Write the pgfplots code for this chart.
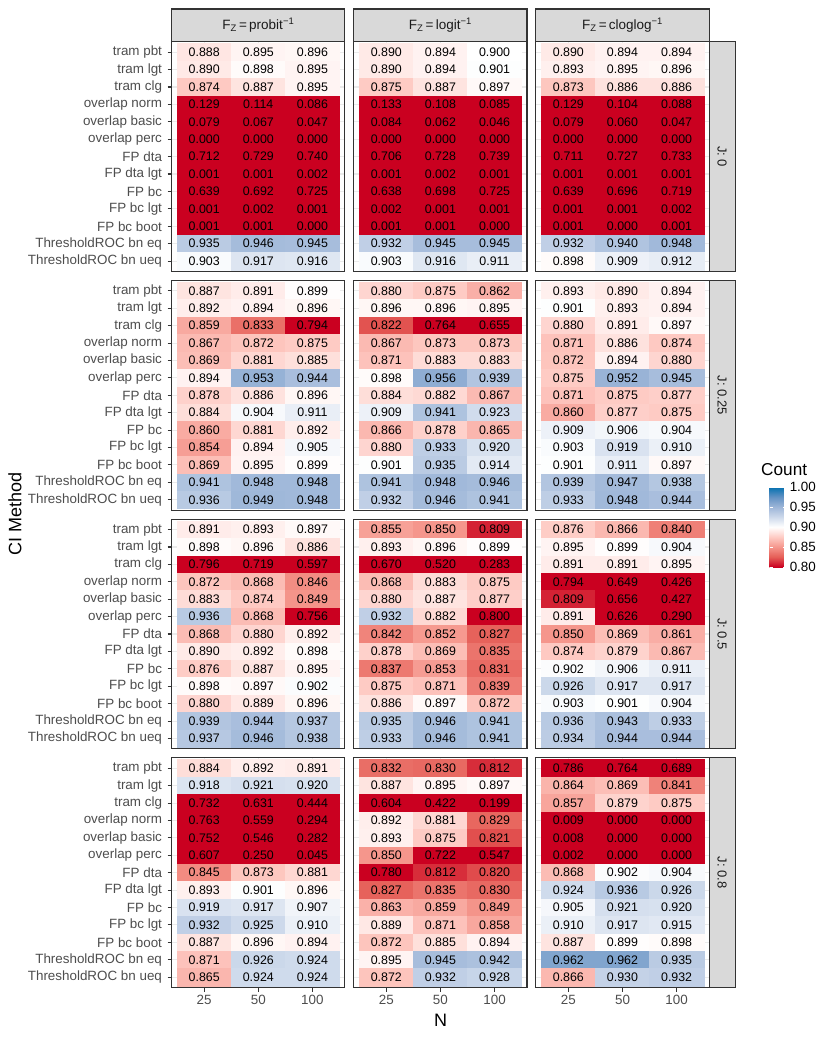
\documentclass[border=0pt]{standalone}
\usepackage{fontspec}
\setmainfont{Liberation Sans}
\usepackage{pgfplots}
\usepackage{pgfplotstable}
\pgfplotsset{compat=1.18}

\definecolor{gBorder}{HTML}{333333}
\definecolor{gStrip}{HTML}{D9D9D9}
\definecolor{gTick}{HTML}{4D4D4D}
\definecolor{gGrid}{HTML}{EBEBEB}
\definecolor{gStripTxt}{HTML}{1A1A1A}

% coverage, rows = CI methods (0 = tram pbt ... 12 = ThresholdROC bn ueq), columns = N
% J: 0
\pgfplotstableread{
r n25 n50 n100
0 0.888 0.895 0.896
1 0.890 0.898 0.895
2 0.874 0.887 0.895
3 0.129 0.114 0.086
4 0.079 0.067 0.047
5 0.000 0.000 0.000
6 0.712 0.729 0.740
7 0.001 0.001 0.002
8 0.639 0.692 0.725
9 0.001 0.002 0.001
10 0.001 0.001 0.000
11 0.935 0.946 0.945
12 0.903 0.917 0.916
}\Apr
\pgfplotstableread{
r n25 n50 n100
0 0.890 0.894 0.900
1 0.890 0.894 0.901
2 0.875 0.887 0.897
3 0.133 0.108 0.085
4 0.084 0.062 0.046
5 0.000 0.000 0.000
6 0.706 0.728 0.739
7 0.001 0.002 0.001
8 0.638 0.698 0.725
9 0.002 0.001 0.001
10 0.001 0.001 0.000
11 0.932 0.945 0.945
12 0.903 0.916 0.911
}\Alo
\pgfplotstableread{
r n25 n50 n100
0 0.890 0.894 0.894
1 0.893 0.895 0.896
2 0.873 0.886 0.886
3 0.129 0.104 0.088
4 0.079 0.060 0.047
5 0.000 0.000 0.000
6 0.711 0.727 0.733
7 0.001 0.001 0.001
8 0.639 0.696 0.719
9 0.001 0.001 0.002
10 0.001 0.000 0.001
11 0.932 0.940 0.948
12 0.898 0.909 0.912
}\Acl
% J: 0.25
\pgfplotstableread{
r n25 n50 n100
0 0.887 0.891 0.899
1 0.892 0.894 0.896
2 0.859 0.833 0.794
3 0.867 0.872 0.875
4 0.869 0.881 0.885
5 0.894 0.953 0.944
6 0.878 0.886 0.896
7 0.884 0.904 0.911
8 0.860 0.881 0.892
9 0.854 0.894 0.905
10 0.869 0.895 0.899
11 0.941 0.948 0.948
12 0.936 0.949 0.948
}\Bpr
\pgfplotstableread{
r n25 n50 n100
0 0.880 0.875 0.862
1 0.896 0.896 0.895
2 0.822 0.764 0.655
3 0.867 0.873 0.873
4 0.871 0.883 0.883
5 0.898 0.956 0.939
6 0.884 0.882 0.867
7 0.909 0.941 0.923
8 0.866 0.878 0.865
9 0.880 0.933 0.920
10 0.901 0.935 0.914
11 0.941 0.948 0.946
12 0.932 0.946 0.941
}\Blo
\pgfplotstableread{
r n25 n50 n100
0 0.893 0.890 0.894
1 0.901 0.893 0.894
2 0.880 0.891 0.897
3 0.871 0.886 0.874
4 0.872 0.894 0.880
5 0.875 0.952 0.945
6 0.871 0.875 0.877
7 0.860 0.877 0.875
8 0.909 0.906 0.904
9 0.903 0.919 0.910
10 0.901 0.911 0.897
11 0.939 0.947 0.938
12 0.933 0.948 0.944
}\Bcl
% J: 0.5
\pgfplotstableread{
r n25 n50 n100
0 0.891 0.893 0.897
1 0.898 0.896 0.886
2 0.796 0.719 0.597
3 0.872 0.868 0.846
4 0.883 0.874 0.849
5 0.936 0.868 0.756
6 0.868 0.880 0.892
7 0.890 0.892 0.898
8 0.876 0.887 0.895
9 0.898 0.897 0.902
10 0.880 0.889 0.896
11 0.939 0.944 0.937
12 0.937 0.946 0.938
}\Cpr
\pgfplotstableread{
r n25 n50 n100
0 0.855 0.850 0.809
1 0.893 0.896 0.899
2 0.670 0.520 0.283
3 0.868 0.883 0.875
4 0.880 0.887 0.877
5 0.932 0.882 0.800
6 0.842 0.852 0.827
7 0.878 0.869 0.835
8 0.837 0.853 0.831
9 0.875 0.871 0.839
10 0.886 0.897 0.872
11 0.935 0.946 0.941
12 0.933 0.946 0.941
}\Clo
\pgfplotstableread{
r n25 n50 n100
0 0.876 0.866 0.840
1 0.895 0.899 0.904
2 0.891 0.891 0.895
3 0.794 0.649 0.426
4 0.809 0.656 0.427
5 0.891 0.626 0.290
6 0.850 0.869 0.861
7 0.874 0.879 0.867
8 0.902 0.906 0.911
9 0.926 0.917 0.917
10 0.903 0.901 0.904
11 0.936 0.943 0.933
12 0.934 0.944 0.944
}\Ccl
% J: 0.8
\pgfplotstableread{
r n25 n50 n100
0 0.884 0.892 0.891
1 0.918 0.921 0.920
2 0.732 0.631 0.444
3 0.763 0.559 0.294
4 0.752 0.546 0.282
5 0.607 0.250 0.045
6 0.845 0.873 0.881
7 0.893 0.901 0.896
8 0.919 0.917 0.907
9 0.932 0.925 0.910
10 0.887 0.896 0.894
11 0.871 0.926 0.924
12 0.865 0.924 0.924
}\Dpr
\pgfplotstableread{
r n25 n50 n100
0 0.832 0.830 0.812
1 0.887 0.895 0.897
2 0.604 0.422 0.199
3 0.892 0.881 0.829
4 0.893 0.875 0.821
5 0.850 0.722 0.547
6 0.780 0.812 0.820
7 0.827 0.835 0.830
8 0.863 0.859 0.849
9 0.889 0.871 0.858
10 0.872 0.885 0.894
11 0.895 0.945 0.942
12 0.872 0.932 0.928
}\Dlo
\pgfplotstableread{
r n25 n50 n100
0 0.786 0.764 0.689
1 0.864 0.869 0.841
2 0.857 0.879 0.875
3 0.009 0.000 0.000
4 0.008 0.000 0.000
5 0.002 0.000 0.000
6 0.868 0.902 0.904
7 0.924 0.936 0.926
8 0.905 0.921 0.920
9 0.910 0.917 0.915
10 0.887 0.899 0.898
11 0.962 0.962 0.935
12 0.866 0.930 0.932
}\Dcl

% red - white - blue, mid at 0.9, limits 0.8 .. 1
\pgfplotsset{
  colormap={cc}{rgb255(0pt)=(202,0,32) rgb255(1pt)=(229,94,87) rgb255(2pt)=(245,150,140)
    rgb255(3pt)=(254,203,196) rgb255(4pt)=(255,255,255) rgb255(5pt)=(205,217,235)
    rgb255(6pt)=(157,182,216) rgb255(7pt)=(99,146,196) rgb255(8pt)=(5,113,176)},
  panel/.style={
    scale only axis, width=173.2pt, height=229.8pt,
    xmin=-0.6, xmax=2.6, ymin=-0.6, ymax=12.6, y dir=reverse,
    xtick={0,1,2}, ytick={0,1,...,12},
    xticklabels={}, yticklabels={},
    grid=major, major grid style={draw=gGrid, line width=1.1pt},
    axis line style={draw=gBorder, line width=1.1pt},
    tick style={draw=gBorder, line width=1.1pt},
    xtick style={draw=none}, ytick style={draw=none},
    major tick length=4.2pt, tick align=outside,
    xtick pos=bottom, ytick pos=left,
    point meta min=0.8, point meta max=1, colormap name=cc,
    tick label style={font=\fontsize{13.4}{15}\selectfont, text=gTick},
    yticklabel style={xshift=-2pt},
  },
  ylab/.style={ytick style={draw=gBorder, line width=1.1pt},
    yticklabels={tram pbt, tram lgt, tram clg, overlap norm, overlap basic, overlap perc,
      FP dta, FP dta lgt, FP bc, FP bc lgt, FP bc boot, ThresholdROC bn eq, ThresholdROC bn ueq}},
  xlab/.style={xtick style={draw=gBorder, line width=1.1pt}, xticklabels={25,50,100}},
  cellp/.style={scatter, only marks, mark=square*, mark size=1pt, point meta=explicit,
    scatter/use mapped color={draw=mapped color, fill=mapped color, line width=0.2pt},
    mark options={xscale=27.06, yscale=8.70}},
  lbl/.style={only marks, mark=none, point meta=explicit symbolic,
    nodes near coords={\pgfplotspointmeta},
    every node near coord/.append style={anchor=center, inner sep=0pt,
      font=\fontsize{12.4}{13}\selectfont, text=black}},
}

\newcommand{\heat}[1]{%
  \addplot[cellp] table[x expr=0, y=r, meta expr={max(0.8,\thisrow{n25})}]{#1};
  \addplot[cellp] table[x expr=1, y=r, meta expr={max(0.8,\thisrow{n50})}]{#1};
  \addplot[cellp] table[x expr=2, y=r, meta expr={max(0.8,\thisrow{n100})}]{#1};
  \addplot[lbl] table[x expr=0, y=r, meta=n25]{#1};
  \addplot[lbl] table[x expr=1, y=r, meta=n50]{#1};
  \addplot[lbl] table[x expr=2, y=r, meta=n100]{#1};
}

\newcommand{\panel}[4]{%
  \begin{axis}[panel, at={(#1pt,-#2pt)}, anchor=north west, #4]
    \heat{#3}
  \end{axis}}

\begin{document}
\begin{tikzpicture}
\useasboundingbox (0,0) rectangle (830pt,-1038pt);

\panel{171.7}{41.7}{\Apr}{ylab}
\panel{353.8}{41.7}{\Alo}{}
\panel{535.9}{41.7}{\Acl}{}
\panel{171.7}{280.4}{\Bpr}{ylab}
\panel{353.8}{280.4}{\Blo}{}
\panel{535.9}{280.4}{\Bcl}{}
\panel{171.7}{519.1}{\Cpr}{ylab}
\panel{353.8}{519.1}{\Clo}{}
\panel{535.9}{519.1}{\Ccl}{}
\panel{171.7}{757.8}{\Dpr}{ylab, xlab}
\panel{353.8}{757.8}{\Dlo}{xlab}
\panel{535.9}{757.8}{\Dcl}{xlab, colorbar, colorbar style={
    at={(761pt,-487pt)}, anchor=north west,
    scale only axis, width=16.7pt, height=80pt,
    ytick={0.8,0.85,0.9,0.95,1},
    yticklabels={0.80,0.85,0.90,0.95,1.00},
    yticklabel style={font=\fontsize{13.4}{15}\selectfont, text=black},
    axis line style={draw=none},
    ytick pos=both, yticklabel pos=right,
    major tick length=3.3pt, tick align=inside,
    tick style={draw=white, line width=0.6pt}}}

% facet strips
\foreach \x/\lab in {171.7/probit, 353.8/logit, 535.9/cloglog} {
  \draw[fill=gStrip, draw=gBorder, line width=1.1pt] (\x pt,-9pt) rectangle ++(173.2pt,-32.7pt);
  \node[font=\fontsize{13.5}{15}\selectfont, text=gStripTxt] at ({\x pt+86.6pt},-25.3pt)
    {F\textsubscript{Z}\,=\,\lab\textsuperscript{−1}};
}
\foreach \y/\lab in {41.7/0, 280.4/0.25, 519.1/0.5, 757.8/0.8} {
  \draw[fill=gStrip, draw=gBorder, line width=1.1pt] (709.1pt,-\y pt) rectangle ++(26.2pt,-229.8pt);
  \node[rotate=-90, font=\fontsize{13}{15}\selectfont, text=gStripTxt] at (722.2pt,{-\y pt-114.9pt}) {J: \lab};
}

% axis titles and legend title
\node[font=\fontsize{18}{20}\selectfont] at (440.5pt,-1020pt) {N};
\node[rotate=90, font=\fontsize{18}{20}\selectfont] at (15pt,-514pt) {CI Method};
\node[anchor=west, inner sep=0pt, font=\fontsize{17.2}{19}\selectfont] at (761pt,-470pt) {Count};
\end{tikzpicture}
\end{document}
